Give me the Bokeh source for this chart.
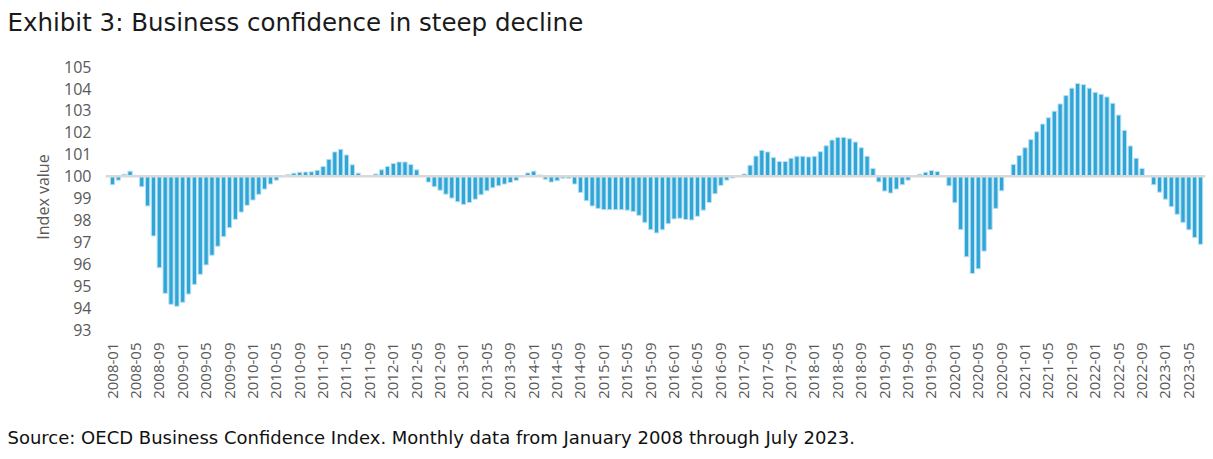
import math
from bokeh.plotting import figure
from bokeh.models import Range1d, FixedTicker, Span, Title, ColumnDataSource
from bokeh.embed import file_html
from bokeh.resources import INLINE

years = list(range(2008, 2024))
months = [f"{y}-{m:02d}" for y in years for m in range(1, 13)][:187]

values = [
    # 2008
    99.61, 99.82, 100.09, 100.23, 100.04, 99.52, 98.64, 97.27, 95.82, 94.65, 94.15, 94.06,
    # 2009
    94.24, 94.62, 95.06, 95.52, 95.95, 96.39, 96.80, 97.24, 97.65, 98.03, 98.36, 98.67,
    # 2010
    98.91, 99.17, 99.41, 99.64, 99.82, 99.97, 100.08, 100.14, 100.18, 100.19, 100.20, 100.27,
    # 2011
    100.44, 100.77, 101.11, 101.23, 100.97, 100.52, 100.14, 100.0, 100.0, 100.10, 100.29, 100.44,
    # 2012
    100.58, 100.65, 100.65, 100.53, 100.29, 99.98, 99.73, 99.52, 99.36, 99.18, 99.00, 98.83,
    # 2013
    98.71, 98.80, 98.95, 99.15, 99.33, 99.47, 99.56, 99.64, 99.71, 99.80, 99.97, 100.15,
    # 2014
    100.23, 100.06, 99.86, 99.73, 99.79, 99.91, 99.91, 99.64, 99.26, 98.88, 98.64, 98.53,
    # 2015
    98.47, 98.47, 98.47, 98.47, 98.45, 98.38, 98.21, 97.89, 97.56, 97.41, 97.55, 97.83,
    # 2016
    98.05, 98.08, 98.02, 98.00, 98.17, 98.45, 98.80, 99.20, 99.58, 99.82, 99.92, 99.99,
    # 2017
    100.10, 100.50, 100.92, 101.18, 101.11, 100.85, 100.67, 100.67, 100.82, 100.91, 100.91, 100.88,
    # 2018
    100.91, 101.12, 101.39, 101.65, 101.77, 101.77, 101.71, 101.56, 101.30, 100.91, 100.35, 99.74,
    # 2019
    99.32, 99.23, 99.41, 99.61, 99.82, 99.98, 100.09, 100.18, 100.26, 100.21, 100.0, 99.56,
    # 2020
    98.79, 97.56, 96.32, 95.56, 95.77, 96.58, 97.56, 98.53, 99.33, 100.0, 100.53, 100.94,
    # 2021
    101.30, 101.67, 102.03, 102.38, 102.67, 102.97, 103.30, 103.68, 104.02, 104.23, 104.18, 104.02,
    # 2022
    103.83, 103.74, 103.62, 103.33, 102.79, 102.09, 101.38, 100.82, 100.35, 100.0, 99.61, 99.27,
    # 2023
    98.95, 98.61, 98.26, 97.89, 97.55, 97.20, 96.89,
]

y_ticks = list(range(93, 106))
baseline = 100
title_text = "Exhibit 3: Business confidence in steep decline"
source_text = "Source: OECD Business Confidence Index. Monthly data from January 2008 through July 2023."

idx = list(range(len(values)))
tick_idx = idx[::4]

src = ColumnDataSource(dict(x=idx, top=values, bottom=[baseline] * len(values), label=months))

p = figure(width=1213, height=459, output_backend="svg", toolbar_location=None,
           x_range=Range1d(-1.2, 186.85), y_range=Range1d(93, 105.1),
           min_border_left=105, min_border_right=8, min_border_top=0, min_border_bottom=130,
           background_fill_color="white", border_fill_color="white")
p.title.text = ""
p.outline_line_color = None
p.grid.visible = False

p.vbar(x="x", top="top", bottom="bottom", width=0.74, source=src,
       fill_color="#2EA6D8", line_color="#BDE0F1", line_width=1)

p.add_layout(Span(location=baseline, dimension="width", line_color="#D9D9D9", line_width=2.5))

yax = p.yaxis[0]
yax.ticker = FixedTicker(ticks=y_ticks)
yax.axis_line_color = None
yax.major_tick_line_color = None
yax.minor_tick_line_color = None
yax.major_label_text_font = "Open Sans"
yax.major_label_text_font_size = "16px"
yax.major_label_text_color = "#595959"
yax.major_label_standoff = 8
yax.axis_label = "Index value"
yax.axis_label_text_font = "Open Sans"
yax.axis_label_text_font_size = "16px"
yax.axis_label_text_font_style = "normal"
yax.axis_label_text_color = "#595959"
yax.axis_label_standoff = 7

xax = p.xaxis[0]
xax.ticker = FixedTicker(ticks=tick_idx)
xax.major_label_overrides = {i: months[i] for i in tick_idx}
xax.major_label_orientation = math.pi / 2
xax.axis_line_color = None
xax.major_tick_line_color = None
xax.minor_tick_line_color = None
xax.major_label_text_font = "Open Sans"
xax.major_label_text_font_size = "15px"
xax.major_label_text_color = "#595959"
xax.major_label_standoff = 7

gap = Title(text=" ", text_font_size="6px")
p.add_layout(gap, "below")
foot = Title(text=source_text, align="left", text_font="DejaVu Sans",
             text_font_size="18px", text_font_style="normal", text_color="#111111", offset=-98)
p.add_layout(foot, "below")

spacer = Title(text=" ", text_font_size="10px")
p.add_layout(spacer, "above")
ttl = Title(text=title_text, align="left", text_font="DejaVu Sans",
            text_font_size="24.5px", text_font_style="normal", text_color="#1a1a1a", offset=-98)
p.add_layout(ttl, "above")

open("out.html", "w").write(file_html(p, INLINE))
